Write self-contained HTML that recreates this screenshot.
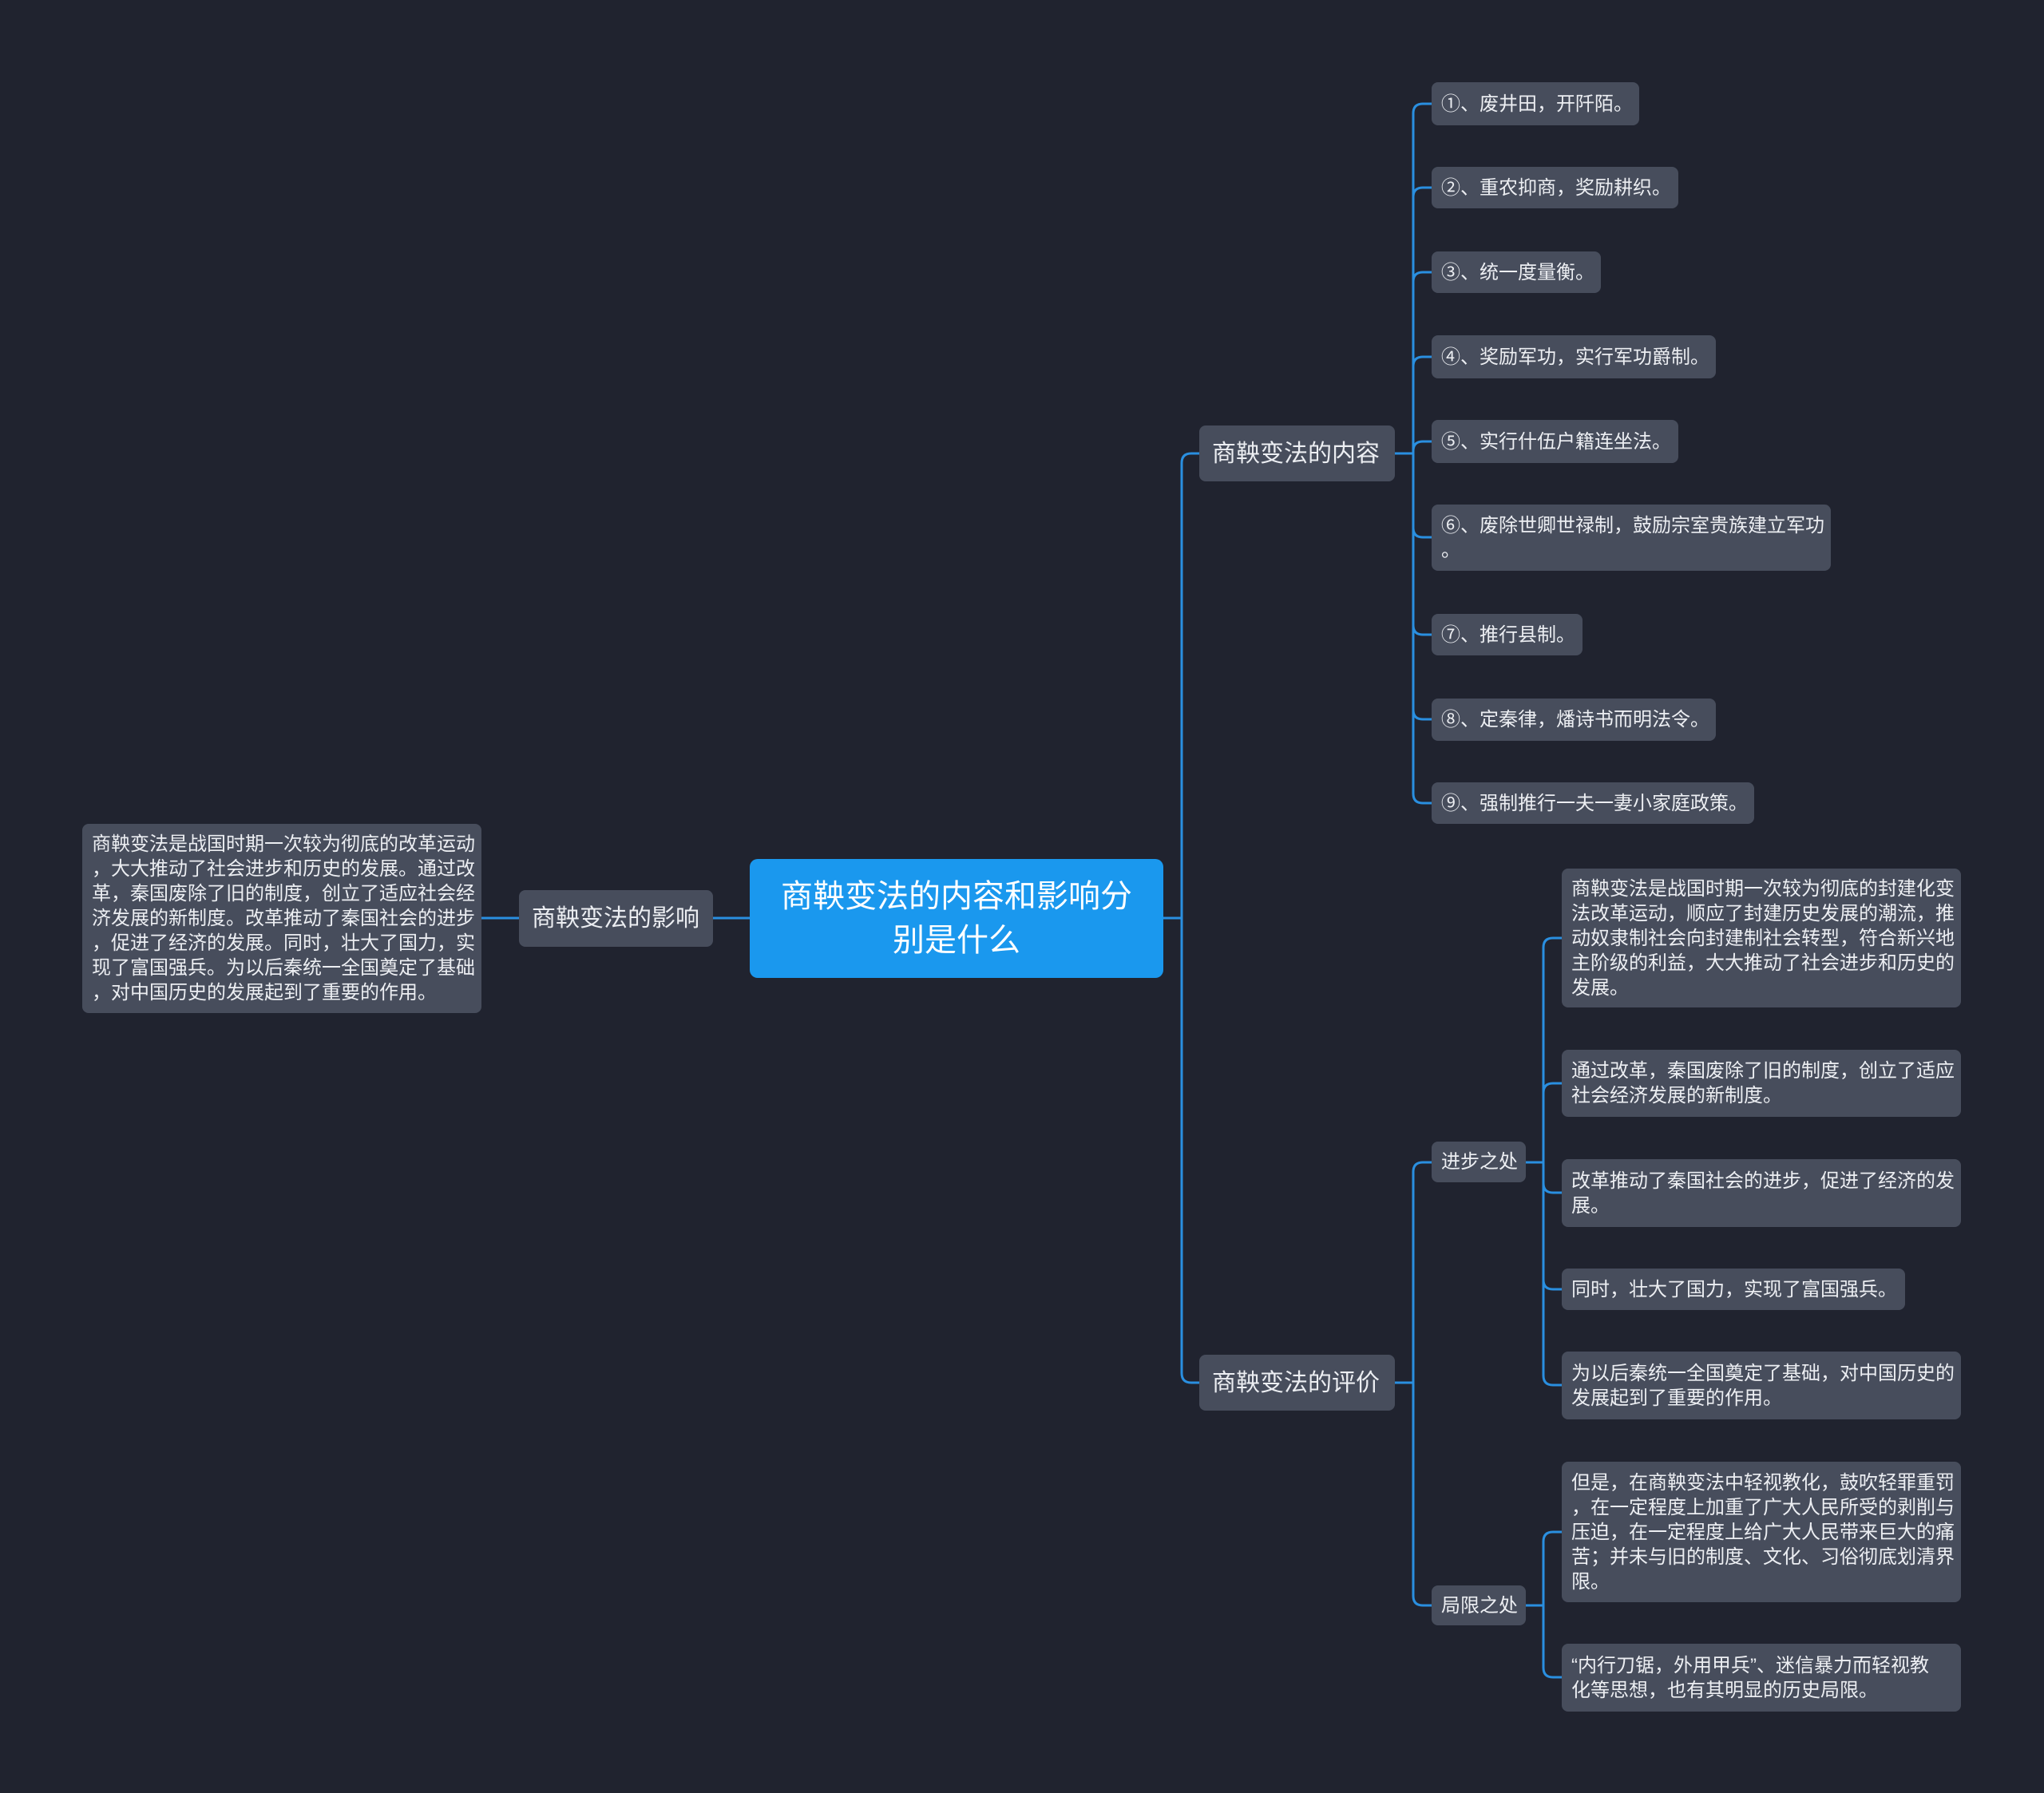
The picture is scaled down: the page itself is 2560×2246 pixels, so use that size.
<!DOCTYPE html>
<html><head><meta charset="utf-8">
<style>
body{margin:0;width:2560px;height:2246px;background:#20232f;position:relative;overflow:hidden;font-family:"Liberation Sans","Noto Sans CJK SC",sans-serif;}
.n{position:absolute;background:#474d5c;color:#eceef2;border-radius:8px;box-sizing:border-box;font-size:24px;line-height:31px;padding:0 12px;white-space:nowrap;display:flex;flex-direction:column;justify-content:center;}
.m{font-size:30px;padding:0 16px;}
.root{background:#1a98ee;color:#fff;font-size:40px;line-height:55px;text-align:center;align-items:center;border-radius:10px;}
svg{position:absolute;left:0;top:0;}
</style></head><body>
<svg width="2560" height="2246" id="s"></svg>

<div class="n root" style="left:939px;top:1076px;width:518px;height:149px;">商鞅变法的内容和影响分<br>别是什么</div>

<div class="n m" style="left:650px;top:1115px;width:243px;height:71px;">商鞅变法的影响</div>
<div class="n" style="left:103px;top:1032px;width:500px;height:237px;">商鞅变法是战国时期一次较为彻底的改革运动<br>，大大推动了社会进步和历史的发展。通过改<br>革，秦国废除了旧的制度，创立了适应社会经<br>济发展的新制度。改革推动了秦国社会的进步<br>，促进了经济的发展。同时，壮大了国力，实<br>现了富国强兵。为以后秦统一全国奠定了基础<br>，对中国历史的发展起到了重要的作用。</div>

<div class="n m" style="left:1502px;top:533px;width:245px;height:70px;">商鞅变法的内容</div>
<div class="n m" style="left:1502px;top:1697px;width:245px;height:70px;">商鞅变法的评价</div>

<div class="n" style="left:1793px;top:103px;width:260px;height:54px;">①、废井田，开阡陌。</div>
<div class="n" style="left:1793px;top:209px;width:309px;height:52px;">②、重农抑商，奖励耕织。</div>
<div class="n" style="left:1793px;top:315px;width:212px;height:52px;">③、统一度量衡。</div>
<div class="n" style="left:1793px;top:420px;width:356px;height:54px;">④、奖励军功，实行军功爵制。</div>
<div class="n" style="left:1793px;top:526px;width:309px;height:54px;">⑤、实行什伍户籍连坐法。</div>
<div class="n" style="left:1793px;top:632px;width:500px;height:83px;">⑥、废除世卿世禄制，鼓励宗室贵族建立军功<br>。</div>
<div class="n" style="left:1793px;top:769px;width:189px;height:52px;">⑦、推行县制。</div>
<div class="n" style="left:1793px;top:875px;width:356px;height:53px;">⑧、定秦律，燔诗书而明法令。</div>
<div class="n" style="left:1793px;top:980px;width:404px;height:52px;">⑨、强制推行一夫一妻小家庭政策。</div>

<div class="n" style="left:1793px;top:1430px;width:118px;height:51px;">进步之处</div>
<div class="n" style="left:1793px;top:1986px;width:118px;height:50px;">局限之处</div>

<div class="n" style="left:1956px;top:1088px;width:500px;height:174px;">商鞅变法是战国时期一次较为彻底的封建化变<br>法改革运动，顺应了封建历史发展的潮流，推<br>动奴隶制社会向封建制社会转型，符合新兴地<br>主阶级的利益，大大推动了社会进步和历史的<br>发展。</div>
<div class="n" style="left:1956px;top:1315px;width:500px;height:84px;">通过改革，秦国废除了旧的制度，创立了适应<br>社会经济发展的新制度。</div>
<div class="n" style="left:1956px;top:1452px;width:500px;height:85px;">改革推动了秦国社会的进步，促进了经济的发<br>展。</div>
<div class="n" style="left:1956px;top:1589px;width:430px;height:52px;">同时，壮大了国力，实现了富国强兵。</div>
<div class="n" style="left:1956px;top:1693px;width:500px;height:85px;">为以后秦统一全国奠定了基础，对中国历史的<br>发展起到了重要的作用。</div>
<div class="n" style="left:1956px;top:1831px;width:500px;height:176px;">但是，在商鞅变法中轻视教化，鼓吹轻罪重罚<br>，在一定程度上加重了广大人民所受的剥削与<br>压迫，在一定程度上给广大人民带来巨大的痛<br>苦；并未与旧的制度、文化、习俗彻底划清界<br>限。</div>
<div class="n" style="left:1956px;top:2059px;width:500px;height:85px;">“内行刀锯，外用甲兵”、迷信暴力而轻视教<br>化等思想，也有其明显的历史局限。</div>

<script>
var s=document.getElementById('s'),d='';
function L(px,py,bx,cx,ys){ys.forEach(function(cy){var r=12;
if(Math.abs(cy-py)<2){d+='M'+px+' '+py+'H'+cx;return;}
var sg=cy<py?-1:1;
d+='M'+px+' '+py+'H'+bx+'V'+(cy-sg*r)+'Q'+bx+' '+cy+' '+(bx+r)+' '+cy+'H'+cx;});}
L(1457,1150,1480,1502,[568,1732]);
d+='M939 1150H893M650 1150H603';
L(1747,568,1770,1793,[130,235,341,447,553,673,795,901,1006]);
L(1747,1732,1770,1793,[1456,2011]);
L(1911,1456,1933,1956,[1175,1357,1494,1615,1735]);
L(1911,2011,1933,1956,[1919,2101]);
s.innerHTML='<path d="'+d+'" fill="none" stroke="#2a8fe0" stroke-width="3"/>';
</script>
</body></html>
